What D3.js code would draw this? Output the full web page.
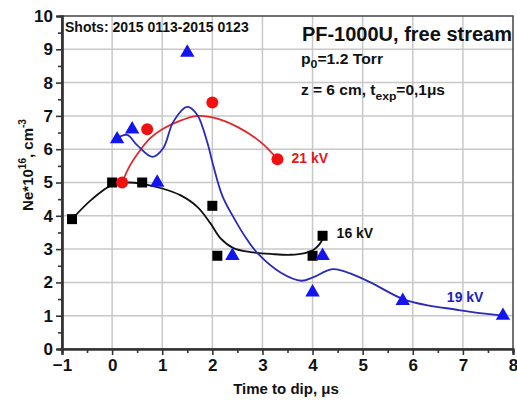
<!DOCTYPE html>
<html>
<head>
  <meta charset="utf-8">
  <style>
    body { margin: 0; background: #fff; }
    text { font-family: 'Liberation Sans', Arial, sans-serif; }
  </style>
</head>
<body>
  <div id='chart'></div>
  <script src="https://d3js.org/d3.v7.min.js"></script>
  <script>
    // measured points
    let kv16 = [[-0.8, 3.9], [0, 5.0], [0.6, 5.0], [2.0, 4.3], [2.1, 2.8], [4.0, 2.8], [4.2, 3.4]];
    let kv21 = [[0.2, 5.0], [0.7, 6.6], [2.0, 7.4], [3.3, 5.7]];
    let kv19 = [[0.1, 6.3], [0.4, 6.6], [0.9, 5.0], [1.5, 8.9], [2.4, 2.8], [4.0, 1.7], [4.2, 2.8], [5.8, 1.45], [7.8, 1.0]];

    // fitted curves
    let fit16 = [[-0.8, 3.9], [-0.4, 4.5], [0, 4.93], [0.3, 5.0], [0.6, 4.96], [1.0, 4.82], [1.36, 4.62], [1.7, 4.27],
      [1.96, 3.78], [2.16, 3.33], [2.42, 3.03], [2.76, 2.91], [3.2, 2.85], [3.56, 2.83], [3.85, 2.88], [4.02, 2.98], [4.14, 3.15], [4.22, 3.36]];
    let fit21 = [[0.2, 5.0], [0.36, 5.52], [0.56, 5.97], [0.76, 6.33], [1.0, 6.6], [1.3, 6.82], [1.7, 7.0], [2.1, 6.92],
      [2.5, 6.67], [2.96, 6.22], [3.3, 5.7]];
    let fit19 = [[0.1, 6.33], [0.3, 6.43], [0.5, 6.12], [0.8, 5.77], [1.02, 6.03], [1.22, 6.82], [1.5, 7.27], [1.7, 7.03],
      [1.9, 6.2], [2.02, 5.5], [2.2, 4.6], [2.42, 3.96], [2.7, 3.27], [2.9, 2.88], [3.36, 2.3], [3.78, 2.05], [4.02, 2.16],
      [4.42, 2.4], [5.06, 2.07], [5.86, 1.47], [6.92, 1.17], [7.8, 1.0]];

    let xTicks = [-1, 0, 1, 2, 3, 4, 5, 6, 7, 8];
    let yTicks = [0, 1, 2, 3, 4, 5, 6, 7, 8, 9, 10];

    let svgWidth = 517;
    let svgHeight = 403;
    let margin = { top: 16, right: 4, bottom: 54, left: 62 };
    let width = svgWidth - margin.left - margin.right;
    let height = svgHeight - margin.top - margin.bottom;

    function translate(x, y) {
      return 'translate(' + x + ',' + y + ')';
    }

    let svg = d3.select('#chart').append('svg')
      .attr('width', svgWidth)
      .attr('height', svgHeight);
    let g = svg.append('g').attr('transform', translate(margin.left, margin.top));

    let x = d3.scaleLinear().domain([-1, 8]).range([0, width]);
    let y = d3.scaleLinear().domain([0, 10]).range([height, 0]);

    // grid
    g.append('g').selectAll('line').data(xTicks.slice(1, -1)).enter().append('line')
      .attr('x1', d => x(d)).attr('x2', d => x(d)).attr('y1', 0).attr('y2', height)
      .style('stroke', '#c8c8c8').style('stroke-width', 1.5);
    g.append('g').selectAll('line').data(yTicks.slice(1, -1)).enter().append('line')
      .attr('y1', d => y(d)).attr('y2', d => y(d)).attr('x1', 0).attr('x2', width)
      .style('stroke', '#c8c8c8').style('stroke-width', 1.5);

    // frame
    g.append('rect').attr('width', width).attr('height', height)
      .style('fill', 'none').style('stroke', '#444').style('stroke-width', 1.5);

    // axes
    let xAxis = g.append('g').attr('transform', translate(0, height))
      .call(d3.axisBottom(x).tickValues(xTicks).tickSize(6).tickPadding(4).tickFormat(d3.format('d')));
    let xMinor = g.append('g').attr('transform', translate(0, height))
      .call(d3.axisBottom(x).tickValues(d3.range(-0.5, 8, 1)).tickSize(4).tickFormat(''));
    let yAxis = g.append('g')
      .call(d3.axisLeft(y).tickValues(yTicks).tickSize(6).tickPadding(3).tickFormat(d3.format('d')));
    let yMinor = g.append('g')
      .call(d3.axisLeft(y).tickValues(d3.range(0.5, 10, 1)).tickSize(4).tickFormat(''));

    [xAxis, xMinor, yAxis, yMinor].forEach(a => {
      a.select('.domain').style('stroke', '#333').style('stroke-width', 2.2);
      a.selectAll('.tick line').style('stroke', '#333').style('stroke-width', 1.6);
    });
    [xAxis, yAxis].forEach(a => {
      a.selectAll('.tick text').style('font-size', '17px').style('font-weight', 'bold')
        .style('font-family', "'Liberation Sans', Arial, sans-serif").attr('fill', '#111');
    });

    // curves
    let line = d3.line().x(d => x(d[0])).y(d => y(d[1])).curve(d3.curveCatmullRom.alpha(0.5));
    g.append('path').datum(fit16).attr('d', line)
      .style('fill', 'none').style('stroke', '#111').style('stroke-width', 1.8);
    g.append('path').datum(fit21).attr('d', line)
      .style('fill', 'none').style('stroke', '#e0282a').style('stroke-width', 1.8);
    g.append('path').datum(fit19).attr('d', line)
      .style('fill', 'none').style('stroke', '#2a2ab8').style('stroke-width', 1.8);

    // markers
    g.append('g').selectAll('rect').data(kv16).enter().append('rect')
      .attr('x', d => x(d[0]) - 5).attr('y', d => y(d[1]) - 5)
      .attr('width', 10).attr('height', 10).style('fill', '#000');
    g.append('g').selectAll('circle').data(kv21).enter().append('circle')
      .attr('cx', d => x(d[0])).attr('cy', d => y(d[1])).attr('r', 6)
      .style('fill', '#f01010');
    let tri = d3.symbol().type(d3.symbolTriangle).size(90);
    g.append('g').selectAll('path').data(kv19).enter().append('path')
      .attr('transform', d => translate(x(d[0]), y(d[1])))
      .attr('d', tri).style('fill', '#1414f0');

    // series labels
    g.append('text').attr('x', x(3.58)).attr('y', y(5.58)).text('21 kV')
      .style('font-size', '14px').style('font-weight', 'bold').attr('fill', '#e01818');
    g.append('text').attr('x', x(4.48)).attr('y', y(3.32)).text('16 kV')
      .style('font-size', '14px').style('font-weight', 'bold').attr('fill', '#111');
    g.append('text').attr('x', x(6.68)).attr('y', y(1.42)).text('19 kV')
      .style('font-size', '14px').style('font-weight', 'bold').attr('fill', '#2020c0');

    // annotations
    svg.append('text').attr('x', 65).attr('y', 32).text('Shots: 2015 0113-2015 0123')
      .style('font-size', '14px').style('font-weight', 'bold').attr('fill', '#111');
    svg.append('text').attr('x', 512).attr('y', 41).attr('text-anchor', 'end').text('PF-1000U, free stream')
      .style('font-size', '20px').style('font-weight', 'bold').attr('fill', '#111');

    let t1 = svg.append('text').attr('x', 301).attr('y', 64)
      .style('font-size', '14px').attr('fill', '#111').style('font-weight', 'bold')
      .attr('textLength', 82).attr('lengthAdjust', 'spacingAndGlyphs');
    t1.append('tspan').text('p');
    t1.append('tspan').attr('dy', 4).style('font-size', '11px').text('0');
    t1.append('tspan').attr('dy', -4).text('=1.2 Torr');

    let t2 = svg.append('text').attr('x', 301).attr('y', 95)
      .style('font-size', '14px').attr('fill', '#111').style('font-weight', 'bold')
      .attr('textLength', 144).attr('lengthAdjust', 'spacingAndGlyphs');
    t2.append('tspan').text('z = 6 cm, t');
    t2.append('tspan').attr('dy', 5).style('font-size', '11px').text('exp');
    t2.append('tspan').attr('dy', -5).text('=0,1\u03bcs');

    // axis titles
    svg.append('text').attr('x', 286).attr('y', 394).attr('text-anchor', 'middle')
      .text('Time to dip, \u03bcs').style('font-size', '15px').style('font-weight', 'bold').attr('fill', '#111');

    let yl = svg.append('text').attr('transform', translate(33, 165) + ' rotate(-90)')
      .attr('text-anchor', 'middle').style('font-size', '15px').style('font-weight', 'bold').attr('fill', '#111');
    yl.append('tspan').text('Ne*10');
    yl.append('tspan').attr('dy', -7).style('font-size', '10px').text('16');
    yl.append('tspan').attr('dy', 7).text(', cm');
    yl.append('tspan').attr('dy', -7).style('font-size', '10px').text('-3');
  </script>
</body>
</html>
